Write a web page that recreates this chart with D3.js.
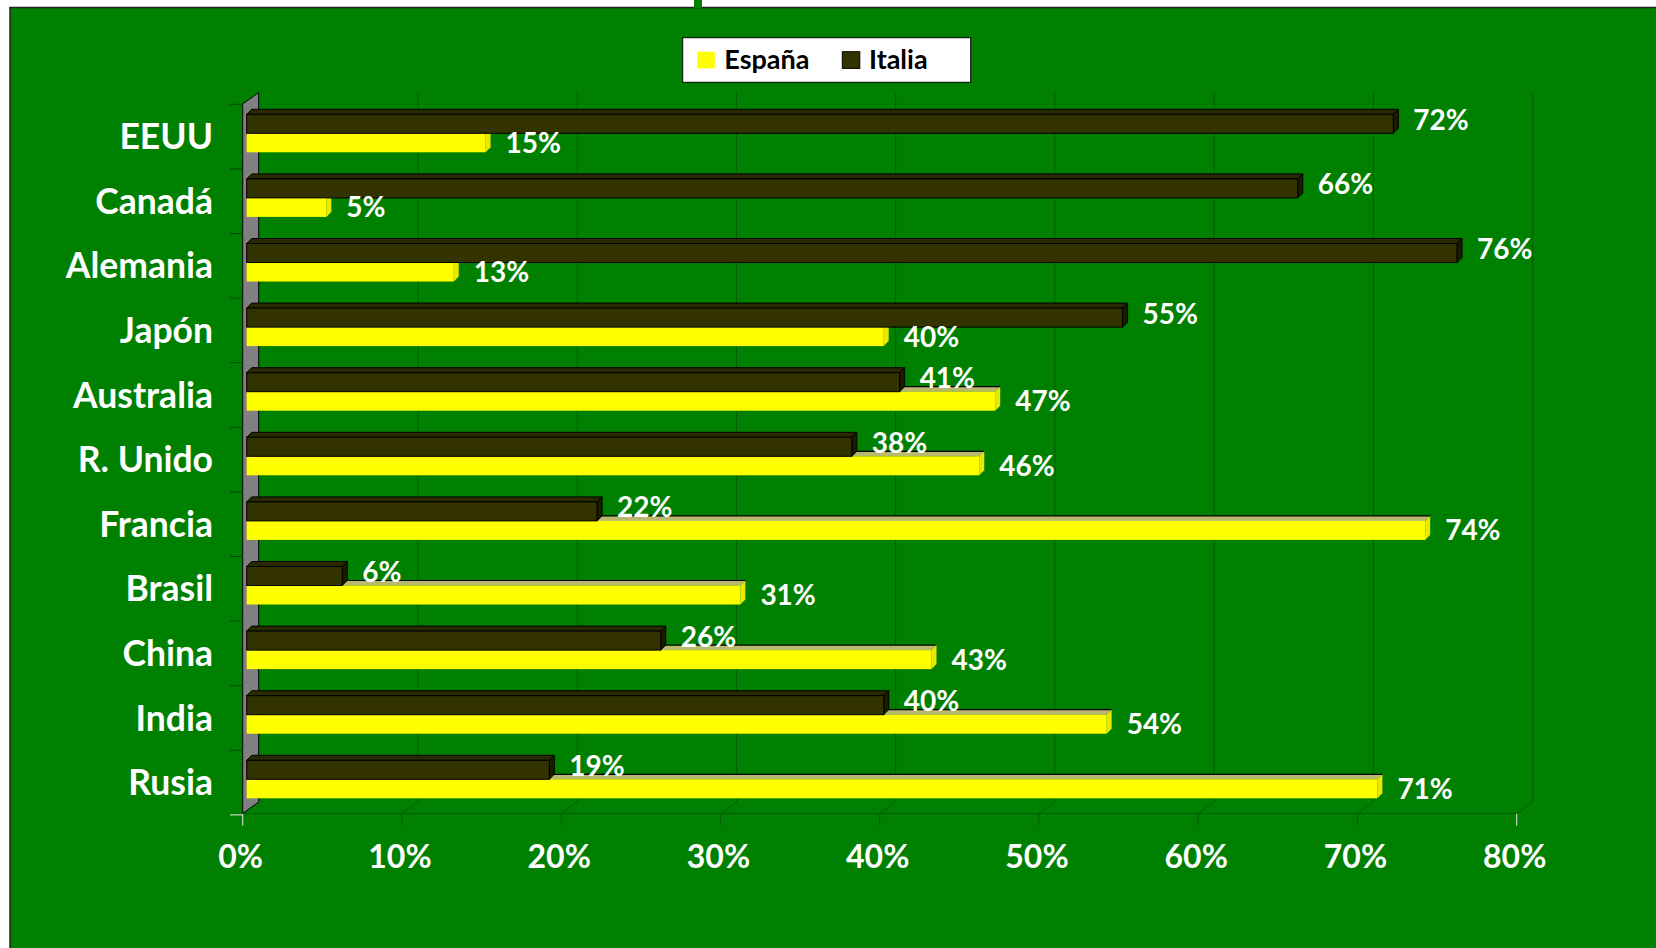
<!DOCTYPE html>
<html>
<head>
<meta charset="utf-8">
<script src="https://cdn.jsdelivr.net/npm/d3@7"></script>
<style>
  html, body { margin: 0; padding: 0; background: #ffffff; }
  svg { display: block; }
  text { font-family: "Lato", "Open Sans", sans-serif; font-weight: bold; }
</style>
</head>
<body>
<svg id="chart" width="1656" height="948"></svg>
<script>
// ---- data ----
const categories = ["EEUU", "Canadá", "Alemania", "Japón", "Australia", "R. Unido", "Francia", "Brasil", "China", "India", "Rusia"];
const seriesNames = ["España", "Italia"];
const espana = [15, 5, 13, 40, 47, 46, 74, 31, 43, 54, 71];
const italia = [72, 66, 76, 55, 41, 38, 22, 6, 26, 40, 19];
const tickValues = [0, 10, 20, 30, 40, 50, 60, 70, 80];
const tickLabels = ["0%", "10%", "20%", "30%", "40%", "50%", "60%", "70%", "80%"];

// ---- styles ----
const GREEN = "#008000";
const GRID = "#005c00";
const YELLOW = "#ffff00";
const YELLOW_TOP = "#b9b96e";
const YELLOW_SIDE = "#e8e800";
const DARK = "#333300";
const DARK_TOP = "#2a2a00";
const DARK_SIDE = "#1c1c00";

const svg = d3.select("#chart");

// chart area background
svg.append("rect").attr("x", 10).attr("y", 7.5).attr("width", 1700).attr("height", 1000)
  .attr("fill", GREEN).attr("stroke", "#222").attr("stroke-width", 1.5);
svg.append("rect").attr("x", 694).attr("y", 0).attr("width", 8).attr("height", 8).attr("fill", GREEN);

// scales (front plane)
const x = d3.scaleLinear().domain([0, 80]).range([242.7, 1516.7]);
const y = d3.scaleBand().domain(categories).range([104.3, 814.9]);
const ys = d3.scaleBand().domain(["Italia", "España"]).range([10, 48]);

// 3D offsets
const WDX = 16, WDY = 11.5;   // wall / floor depth
const BDX = 5, BDY = 5;       // bar depth
const BOX = 4;                // bar x offset (mid depth)
const floorY = 813.5;
const topY = 104;

// gridlines on back wall + floor diagonals + ticks
const g = svg.append("g");
tickValues.forEach((t, i) => {
  const fx = x(t);
  if (i > 0) {
    g.append("path")
      .attr("d", `M${fx + WDX},${topY - WDY} V${floorY - WDY} L${fx},${floorY}`)
      .attr("fill", "none").attr("stroke", GRID).attr("stroke-width", 1);
  }
  const edge = (i === 0 || i === tickValues.length - 1);
  g.append("line").attr("x1", fx).attr("x2", fx).attr("y1", floorY).attr("y2", floorY + 12)
    .attr("stroke", edge ? "#e8e8e8" : GRID).attr("stroke-width", 1);
});
// front floor edge
g.append("line").attr("x1", x(0)).attr("x2", x(80)).attr("y1", floorY).attr("y2", floorY)
  .attr("stroke", GRID).attr("stroke-width", 1);

// side wall (gray)
svg.append("path")
  .attr("d", `M${x(0)},${topY} L${x(0) + WDX},${topY - WDY} L${x(0) + WDX},${floorY - WDY} L${x(0)},${floorY} Z`)
  .attr("fill", "#808080").attr("stroke", "#000").attr("stroke-width", 1);

// category ticks
const bounds = categories.map(c => y(c)).concat([y.range()[1]]);
bounds.forEach((b, i) => {
  svg.append("line").attr("x1", 230).attr("x2", x(0)).attr("y1", b).attr("y2", b)
    .attr("stroke", i === bounds.length - 1 ? "#e8e8e8" : "#004800").attr("stroke-width", 1);
});

// bars
function box(gr, x0, x1, yTop, h, front, top, side, stroke, topLine) {
  const x1s = x1 + BDX, yT = yTop - BDY;
  gr.append("path")
    .attr("d", `M${x0},${yTop} L${x1},${yTop} L${x1s},${yT} L${x0 + BDX},${yT} Z`)
    .attr("fill", top).attr("stroke", stroke).attr("stroke-width", stroke === "none" ? 0 : 1);
  if (topLine) {
    gr.append("line").attr("x1", x0 + BDX).attr("x2", x1s).attr("y1", yT).attr("y2", yT)
      .attr("stroke", "#000").attr("stroke-width", 1.2);
  }
  gr.append("path")
    .attr("d", `M${x1},${yTop} L${x1s},${yT} L${x1s},${yT + h} L${x1},${yTop + h} Z`)
    .attr("fill", side).attr("stroke", stroke).attr("stroke-width", stroke === "none" ? 0 : 1);
  gr.append("rect").attr("x", x0).attr("y", yTop).attr("width", Math.max(0, x1 - x0)).attr("height", h)
    .attr("fill", front).attr("stroke", stroke).attr("stroke-width", stroke === "none" ? 0 : 1);
}

const bars = svg.append("g");
const h = ys.bandwidth();
categories.forEach((c, i) => {
  const gy = y(c);
  // España (yellow) first, below
  const yE = gy + ys("España");
  box(bars, x(0) + BOX, x(espana[i]) + BOX, yE, h, YELLOW, YELLOW_TOP, YELLOW_SIDE, "none", true);
  // Italia (dark) on top
  const yI = gy + ys("Italia");
  box(bars, x(0) + BOX, x(italia[i]) + BOX, yI, h, DARK, DARK_TOP, DARK_SIDE, "#000", false);
});

// value labels
const labels = svg.append("g").attr("fill", "#fff").attr("font-size", 28);
categories.forEach((c, i) => {
  const gy = y(c);
  const yI = gy + ys("Italia") + h / 2;
  const yE = gy + ys("España") + h / 2;
  labels.append("text").attr("x", x(italia[i]) + BOX + BDX + 15).attr("y", yI - 4 + 10)
    .text(italia[i] + "%");
  labels.append("text").attr("x", x(espana[i]) + BOX + BDX + 15).attr("y", yE + 10)
    .text(espana[i] + "%");
});

// category labels
svg.append("g").selectAll("text").data(categories).join("text")
  .attr("x", 213).attr("y", d => y(d) + y.bandwidth() / 2 + 12.6)
  .attr("text-anchor", "end").attr("fill", "#fff").attr("font-size", 35.5)
  .text(d => d);

// value axis tick labels
svg.append("g").selectAll("text").data(tickValues).join("text")
  .attr("x", d => x(d) - 2).attr("y", 868)
  .attr("text-anchor", "middle").attr("fill", "#fff").attr("font-size", 32)
  .text((d, i) => tickLabels[i]);

// legend
const lg = svg.append("g");
lg.append("rect").attr("x", 682.7).attr("y", 37.7).attr("width", 288).attr("height", 44.6)
  .attr("fill", "#fff").attr("stroke", "#000").attr("stroke-width", 1);
lg.append("rect").attr("x", 697.3).attr("y", 51.7).attr("width", 17.5).attr("height", 16.7).attr("fill", YELLOW);
lg.append("text").attr("x", 724.3).attr("y", 68.5).attr("font-size", 27).attr("fill", "#000").text(seriesNames[0]);
lg.append("rect").attr("x", 842.3).attr("y", 51.7).attr("width", 17.5).attr("height", 16.7)
  .attr("fill", DARK).attr("stroke", "#000").attr("stroke-width", 1);
lg.append("text").attr("x", 869).attr("y", 68.5).attr("font-size", 27).attr("fill", "#000").text(seriesNames[1]);
</script>
</body>
</html>
